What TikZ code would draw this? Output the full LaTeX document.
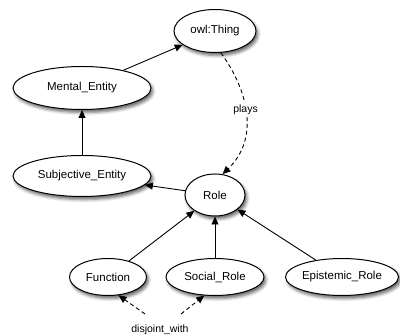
\documentclass[tikz,border=0pt]{standalone}
\usepackage{fontspec}
\setmainfont{Liberation Sans}
\usetikzlibrary{shapes.geometric,arrows.meta,shadows.blur}
\begin{document}
\begin{tikzpicture}[x=1pt,y=-1pt,
  concept/.style={ellipse,draw=black,line width=1pt,fill=white,inner sep=0pt,
    font=\fontsize{11.5}{13}\selectfont,
    blur shadow={shadow xshift=2pt,shadow yshift=-3pt,shadow blur radius=3pt,shadow opacity=60}},
  isa/.style={line width=0.9pt,-{Triangle[length=8pt,width=7pt]}},
  rel/.style={line width=0.9pt,dash pattern=on 4pt off 3pt,-{Triangle[length=8pt,width=7pt]}},
  lbl/.style={font=\fontsize{10.5}{12}\selectfont,fill=white,inner sep=2pt}]
\useasboundingbox (0,0) rectangle (400,336);

% class hierarchy
\node[concept,minimum width=82pt,minimum height=43pt] (thing) at (215,31) {owl:Thing};
\node[concept,minimum width=138pt,minimum height=43pt] (mental) at (82,88) {Mental\_Entity};
\node[concept,minimum width=138pt,minimum height=41pt] (subj) at (82,176) {Subjective\_Entity};
\node[concept,minimum width=60pt,minimum height=42pt] (role) at (215,195) {Role};
\node[concept,minimum width=77pt,minimum height=37pt] (func) at (108,277) {Function};
\node[concept,minimum width=98pt,minimum height=37pt] (social) at (215,277) {Social\_Role};
\node[concept,minimum width=112pt,minimum height=37pt] (epist) at (342,277) {Epistemic\_Role};

% subclass links
\draw[isa] (mental) -- (thing);
\draw[isa] (subj) -- (mental);
\draw[isa] (role) -- (subj);
\draw[isa] (func) -- (role);
\draw[isa] (social) -- (role);
\draw[isa] (epist) -- (role);

% object properties
\draw[rel] (thing.-75) .. controls (248,90) and (260,138) .. node[lbl,pos=0.47] {plays} (role.70);

\node[lbl] (disj) at (160,330) {disjoint\_with};
\coordinate (d1) at (145,314);
\coordinate (d2) at (181,314);
\draw[rel] (d1) -- (func.-60);
\draw[rel] (d2) -- (social.-120);
\end{tikzpicture}
\end{document}
